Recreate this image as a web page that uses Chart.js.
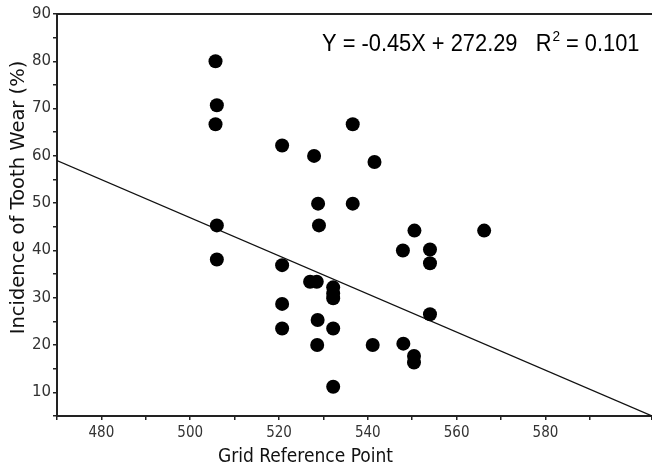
<!DOCTYPE html>
<html><head><meta charset="utf-8">
<script src="https://cdn.jsdelivr.net/npm/chart.js@4/dist/chart.umd.min.js"></script>
<style>html,body{margin:0;padding:0;background:#fff}#wrap{width:652px;height:469px}</style>
</head><body><div id="wrap"><canvas id="c" width="652" height="469"></canvas></div>
<script>
const gridRef = [505.7, 506.0, 505.7, 506.0, 506.0, 520.7, 520.7, 520.7, 520.7, 527.9, 528.8, 529.0, 527.0, 528.5, 528.7, 528.6, 532.2, 532.2, 532.2, 532.2, 532.2, 536.6, 536.6, 541.5, 541.1, 547.9, 548.0, 550.5, 550.4, 550.4, 554.0, 554.0, 554.0, 566.2];
const toothWear = [80.0, 70.7, 66.7, 45.3, 38.1, 62.2, 36.9, 28.7, 23.5, 60.0, 49.9, 45.3, 33.4, 33.4, 25.3, 20.0, 32.2, 30.9, 29.9, 23.5, 11.2, 66.7, 49.9, 58.7, 20.0, 40.0, 20.3, 44.2, 17.7, 16.3, 40.2, 37.3, 26.5, 44.2];
const fitX = [470, 604];
const fitY = [59.0, 5.0];
const xTickLabels = [480, 500, 520, 540, 560, 580];
const yTickLabels = [10, 20, 30, 40, 50, 60, 70, 80, 90];
const xTitle = 'Grid Reference Point';
const yTitle = 'Incidence of Tooth Wear (%)';
const eqMain = 'Y = -0.45X + 272.29   R';
const eqSup = '2';
const eqTail = ' = 0.101';

const axisColor = '#222';
const textColor = '#333';

const extras = {
  id: 'extras',
  afterLayout(chart) {
    const s = chart.scales.x;
    const extra = chart.width - s.right;
    if (extra > 0) {
      s.right += extra;
      s.width += extra;
      s.configure();
      chart.chartArea.right += extra;
      chart.chartArea.width += extra;
    }
  },
  afterDraw(chart) {
    const ctx = chart.ctx, a = chart.chartArea;
    ctx.save();
    ctx.strokeStyle = axisColor;
    ctx.lineWidth = 2;
    ctx.beginPath();
    ctx.moveTo(a.left, a.top);
    ctx.lineTo(a.right, a.top);
    ctx.stroke();
    ctx.restore();

    // axis titles
    ctx.save();
    ctx.fillStyle = '#111';
    ctx.textAlign = 'center';
    ctx.textBaseline = 'middle';
    ctx.font = '19px "DejaVu Sans Condensed", "DejaVu Sans"';
    ctx.fillText(xTitle, 305.5, 457);
    ctx.translate(18.5, 197.5);
    ctx.rotate(-Math.PI / 2);
    ctx.font = '19.5px "DejaVu Sans"';
    ctx.fillText(yTitle, 0, 0);
    ctx.restore();

    // equation
    ctx.save();
    ctx.fillStyle = '#000';
    ctx.textBaseline = 'alphabetic';
    ctx.textAlign = 'left';
    ctx.translate(322, 51);
    ctx.scale(0.91, 1);
    ctx.font = '24px "Liberation Sans"';
    ctx.fillText(eqMain, 0, 0);
    let w = ctx.measureText(eqMain).width;
    ctx.font = '15px "Liberation Sans"';
    ctx.fillText(eqSup, w + 1, -10);
    w += ctx.measureText(eqSup).width + 1;
    ctx.font = '24px "Liberation Sans"';
    ctx.fillText(eqTail, w, 0);
    ctx.restore();
  }
};

new Chart(document.getElementById('c'), {
  type: 'scatter',
  data: {
    datasets: [
      {
        data: gridRef.map((x, i) => ({x: x, y: toothWear[i]})),
        pointRadius: 7,
        pointHoverRadius: 7,
        backgroundColor: '#000',
        borderWidth: 0,
        showLine: false,
        order: 1
      },
      {
        data: fitX.map((x, i) => ({x: x, y: fitY[i]})),
        showLine: true,
        pointRadius: 0,
        borderColor: '#111',
        borderWidth: 1.2,
        fill: false,
        order: 2
      }
    ]
  },
  options: {
    responsive: false,
    devicePixelRatio: 1,
    animation: false,
    layout: {padding: {top: 14, right: 0, left: 0, bottom: 0}},
    plugins: {legend: {display: false}, tooltip: {enabled: false}},
    scales: {
      x: {
        type: 'linear',
        min: 470, max: 604,
        afterFit(s) { s.height = 53; s.paddingLeft = 0; s.paddingRight = 0; },
        ticks: {
          stepSize: 10,
          autoSkip: false,
          maxRotation: 0,
          color: textColor,
          padding: 4,
          font: {family: '"DejaVu Sans Condensed", "DejaVu Sans"', size: 15},
          callback: v => xTickLabels.includes(v) ? String(v) : ''
        },
        grid: {display: true, drawOnChartArea: false, drawTicks: true, tickLength: 4, color: axisColor, lineWidth: 1.5},
        border: {display: true, color: axisColor, width: 2},
        title: {display: false}
      },
      y: {
        type: 'linear',
        min: 5, max: 90,
        afterFit(s) { s.width = 57; s.paddingTop = 0; s.paddingBottom = 0; },
        ticks: {
          stepSize: 5,
          autoSkip: false,
          color: textColor,
          padding: 2,
          font: {family: '"DejaVu Sans"', size: 15},
          callback: v => yTickLabels.includes(v) ? String(v) : ''
        },
        grid: {display: true, drawOnChartArea: false, drawTicks: true, tickLength: 4, color: axisColor, lineWidth: 1.5},
        border: {display: true, color: axisColor, width: 2},
        title: {display: false}
      }
    }
  },
  plugins: [extras]
});
</script>
</body></html>
